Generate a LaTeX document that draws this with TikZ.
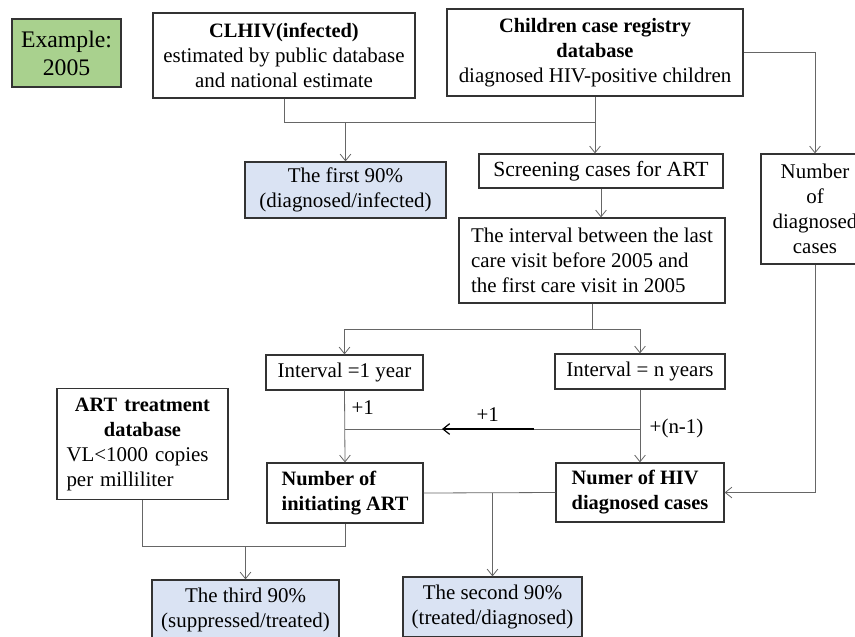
\documentclass[tikz,border=0pt]{standalone}
\usepackage{fontspec}
\setmainfont{Liberation Serif}
\usetikzlibrary{arrows.meta,calc}
\definecolor{exgreen}{HTML}{A9D18E}
\definecolor{resblue}{HTML}{DAE3F3}
\newcommand{\bx}{\fontsize{15.7}{18.75}\selectfont}
\newcommand{\bt}[1]{{\fontsize{15.3}{18.75}\selectfont\bfseries #1}}

\begin{document}
\begin{tikzpicture}[x=0.75pt, y=-0.75pt,
        box/.style={draw=black!80, line width=0.9pt, fill=white, inner sep=0pt,
            align=center, font=\bx},
        sz/.style 2 args={minimum width=#1*0.75pt, minimum height=#2*0.75pt},
        result/.style={box, fill=resblue},
        conn/.style={draw=black!60, line width=0.6pt},
        arr/.style={conn, -{Straight Barb[length=5pt,width=8pt]}},
        lbl/.style={font=\bx, inner sep=2pt}]
    \useasboundingbox (0,0) rectangle (855,636);
    \clip (0,0) rectangle (855,636);

    \node[box, fill=exgreen, font=\fontsize{17.8}{21}\selectfont, sz={109}{68}] (example)
        at (66.5,53) {Example:\\2005};
    \node[box, sz={262}{85}] (clhiv) at (284,55.5)
        {\bt{CLHIV(infected)}\\estimated by public database\\and national estimate};
    \node[box, sz={296}{87}] (registry) at (595,52.5)
        {\bt{Children case registry}\\\bt{database}\\diagnosed HIV-positive children};
    \node[result, sz={201}{56}] (first) at (345.5,190) {The first 90\%\\(diagnosed/infected)};
    \node[box, font=\fontsize{16.2}{18.75}\selectfont, sz={244}{34}] (screen) at (601,171)
        {Screening cases for ART};
    \node[box, align=left, sz={266}{85}] (interval) at (592,260.5)
        {The interval between the last\\care visit before 2005 and\\the first care visit in 2005};
    \node[box, sz={108}{110}] (ndiag) at (815,209) {Number\\of\\diagnosed\\cases};
    \node[box, sz={157}{35}] (ivone) at (344.5,372.5) {Interval =1 year};
    \node[box, sz={170}{35}] (ivn) at (640,371.5) {Interval = n years};
    \node[box, align=left, sz={156}{60}] (init) at (345,493)
        {\bt{Number of}\\\bt{initiating ART}};
    \node[box, align=left, sz={168}{59}] (hiv) at (640,492.5)
        {\bt{Numer of HIV}\\\bt{diagnosed cases}};
    \node[box, align=left, text width=152*0.75pt, sz={171}{111}] (artdb) at (142.5,444)
        {\makebox[\linewidth]{\bt{ART treatment}}\\\makebox[\linewidth]{\bt{database}}\\VL<1000 copies\\per milliliter};
    \node[result, sz={187}{60}] (third) at (245.5,610) {The third 90\%\\(suppressed/treated)};
    \node[result, sz={179}{60}] (second) at (492.5,607) {The second 90\%\\(treated/diagnosed)};

    \coordinate (jtop) at (595,122);
    \coordinate (jiv) at (592,329);
    \coordinate (jone) at (344.5,429);
    \coordinate (jn) at (640,429);
    \coordinate (jbot) at (345,546);

    \draw[conn] (clhiv.south) |- (jtop) -- (registry.south);
    \draw[arr] (first.north |- jtop) -- (first.north);
    \draw[arr] (jtop) -- (jtop |- screen.north);
    \draw[arr] (screen.south) -- (screen.south |- interval.north);
    \draw[arr] (registry.east) -| (ndiag.north);
    \draw[arr] (ndiag.south) |- (hiv.east);
    \draw[conn] (interval.south) -- (jiv);
    \draw[arr] (jiv) -| (ivone.north);
    \draw[arr] (jiv) -| (ivn.north);
    \draw[arr] (ivone.south) -- (init.north) node[lbl, pos=0.23, right=3pt] {+1};
    \draw[arr] (ivn.south) -- (hiv.north) node[lbl, pos=0.53, right=5pt] {+(n-1)};
    \draw[conn] (jn) -- (jone);
    \draw[black, line width=0.9pt, -{Straight Barb[length=5pt,width=8pt]}]
        ($(jn)!0.36!(jone)$) -- ($(jn)!0.67!(jone)$) node[lbl, midway, above=3pt] {+1};
    \draw[conn] (init.east) -- (hiv.west);
    \draw[arr] (second.north |- init.east) -- (second.north);
    \draw[conn] (artdb.south) |- (jbot) -- (init.south);
    \draw[arr] (third.north |- jbot) -- (third.north);
\end{tikzpicture}
\end{document}
